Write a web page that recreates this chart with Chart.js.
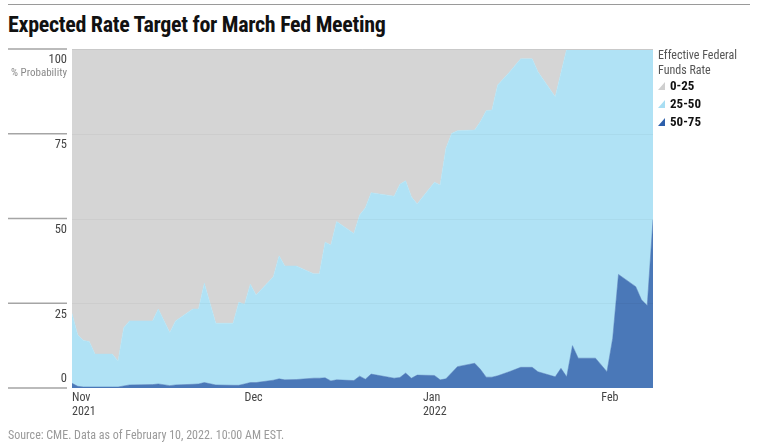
<!DOCTYPE html>
<html>
<head>
<meta charset="utf-8">
<script src="https://cdn.jsdelivr.net/npm/chart.js@4.4.1/dist/chart.umd.min.js"></script>
<style>
  body { margin: 0; background: #fff; font-family: 'Liberation Sans Narrow', 'Roboto Condensed', 'DejaVu Sans Condensed', Roboto, sans-serif; }
  #wrap { position: relative; width: 757px; height: 447px; overflow: hidden; }
  #chartBox { position: absolute; left: 0; top: 0; width: 757px; height: 447px; }
  .rule { position: absolute; left: 8px; top: 4px; width: 742px; height: 1px; background: #9a9a9a; }
  .title { position: absolute; left: 8px; top: 12px; font-size: 22px; font-weight: bold; color: #111; white-space: nowrap; letter-spacing: -0.3px; }
  .source { position: absolute; left: 8px; top: 428px; font-size: 12px; color: #9a9a9a; white-space: nowrap; }
  .legend { position: absolute; left: 658px; top: 48px; font-size: 12px; color: #555; line-height: 15px; }
  .legend .item { font-weight: bold; color: #111; font-size: 13px; line-height: 18px; display: flex; align-items: center; }
  .legend .first { margin-top: -1px; }
  .tri { width: 7px; height: 8px; margin-right: 5px; clip-path: polygon(100% 0, 100% 100%, 0 100%); }
</style>
</head>
<body>
<div id="wrap">
  <div class="rule"></div>
  <div class="title">Expected Rate Target for March Fed Meeting</div>
  <div id="chartBox"><canvas id="rateChart"></canvas></div>
  <div class="legend">
    <div>Effective Federal</div>
    <div>Funds Rate</div>
    <div class="item first"><span class="tri" style="background:#cfcfcf"></span>0-25</div>
    <div class="item"><span class="tri" style="background:#a8def3"></span>25-50</div>
    <div class="item"><span class="tri" style="background:#2d5fab"></span>50-75</div>
  </div>
  <div class="source">Source: CME. Data as of February 10, 2022. 10:00 AM EST.</div>
</div>
<script>
// day offsets from Nov 1, 2021
const days = [0,1,2,3,4,7,8,9,10,14,15,17,18,21,22,23,25,28,29,30,31,32,35,36,37,39,42,43,44,45,46,49,50,51,52,56,57,58,59,60,63,64,65,66,67,70,71,72,73,74,76,78,80,81,84,85,86,87,88,91,93,94,95,98,99,100,101];

const p5075 = [1.4,0.5,0.3,0.3,0.3, 0.3,0.3,0.6,0.9, 1.0,1.2,0.7,0.9, 1.1,1.2,1.6,0.9, 0.8,0.8,1.2,1.6,
               1.6,2.3,2.7,2.4, 2.5,2.9,2.9,3.0, 2.1,2.4,2.2,3.5, 2.6,4.1,2.9,3.1, 4.4,2.9,3.8,3.7,
               2.4,2.7,4.5,6.3, 7.3,5.5,3.2,3.2, 3.6,4.8,6.1,6.1, 4.8,3.3,5.8,3.3, 12.5,8.8,8.8,4.8,
               14.7,33.5,29.9,26.0, 24.3,49.6];

const p2550 = [20.6,15.1,13.7,13.4,9.7, 9.7,7.7,17.2,18.9, 18.8,22.1,15.7,18.9, 22.2,22.1,29.3,18.2,
               18.3,24.5,23.5,29.0, 25.8,30.5,36.3,33.6, 33.5,30.8,30.8,40.0, 40.1,46.7,43.4,47.5,
               50.6,53.5,53.7,57.0, 56.7,53.5,50.5,57.0, 57.5,68.0,70.6,69.6, 68.8,73.1,78.6,78.8,
               85.8,88.3,91.0,91.0, 88.5,82.6,87.2,96.7, 87.5,91.2,91.2,95.2, 85.3,66.5,70.1,74.0,
               75.7,50.4];

const p025 = [78,84.4,86,86.3,90, 90,92,82.2,80.2, 80.2,76.7,83.6,80.2, 76.7,76.7,69.1,80.9,
              80.9,74.7,75.3,69.4, 72.6,67.2,61,64, 64,66.3,66.3,57, 57.8,50.9,54.4,49,
              46.8,42.4,43.4,39.9, 38.9,43.6,45.7,39.3, 40.1,29.3,24.9,24.1, 23.9,21.4,18.2,18,
              10.6,6.9,2.9,2.9, 6.7,14.1,7,0, 0,0,0,0, 0,0,0,0, 0,0];

const monthTicks = [0, 30, 61, 92];
const monthLabels = [['Nov', '2021'], ['Dec'], ['Jan', '2022'], ['Feb']];
const yTicks = [0, 25, 50, 75, 100];

const FONT = "'Liberation Sans Narrow', 'Roboto Condensed', 'DejaVu Sans Condensed', Roboto, sans-serif";

function pts(vals) {
   return days.map((d, i) => ({ x: d, y: vals[i] }));
}

const axisPlugin = {
   id: 'axisPlugin',
   afterDatasetsDraw(chart) {
      const { ctx, chartArea, scales } = chart;
      const xs = scales.x, ys = scales.y;
      ctx.save();

      // faint grid inside plot
      ctx.strokeStyle = 'rgba(0,0,0,0.035)';
      ctx.lineWidth = 1;
      [25, 50, 75].forEach(v => {
         const y = Math.round(ys.getPixelForValue(v)) + 0.5;
         ctx.beginPath();
         ctx.moveTo(chartArea.left, y);
         ctx.lineTo(chartArea.right, y);
         ctx.stroke();
      });
      ctx.strokeStyle = '#c9c9c9';
      const yTop = Math.round(ys.getPixelForValue(100)) + 0.5;
      ctx.beginPath();
      ctx.moveTo(chartArea.left, yTop);
      ctx.lineTo(chartArea.right, yTop);
      ctx.stroke();

      // left tick lines and labels
      ctx.strokeStyle = '#a5a5a5';
      ctx.lineWidth = 1.5;
      ctx.fillStyle = '#444';
      ctx.font = '12.5px ' + FONT;
      ctx.textAlign = 'right';
      yTicks.forEach(v => {
         const y = ys.getPixelForValue(v);
         ctx.beginPath();
         ctx.moveTo(8, y);
         ctx.lineTo(chartArea.left - 5, y);
         ctx.stroke();
         if (v === 0) {
            ctx.textBaseline = 'bottom';
            ctx.fillText(String(v), chartArea.left - 5, y - 3);
         } else {
            ctx.textBaseline = 'top';
            ctx.fillText(String(v), chartArea.left - 5, y + 5);
         }
      });
      ctx.fillStyle = '#8a8a8a';
      ctx.font = '11px ' + FONT;
      ctx.textBaseline = 'top';
      ctx.fillText('% Probability', chartArea.left - 5, ys.getPixelForValue(100) + 19);

      // month labels
      ctx.fillStyle = '#444';
      ctx.font = '12px ' + FONT;
      ctx.textAlign = 'left';
      monthTicks.forEach((d, i) => {
         const x = xs.getPixelForValue(d);
         monthLabels[i].forEach((line, j) => {
            ctx.fillText(line, x, chartArea.bottom + 4 + j * 14);
         });
      });
      ctx.restore();
   }
};

new Chart(document.getElementById('rateChart'), {
   type: 'line',

   data: {
      datasets: [
         {
            label: '50-75',
            data: pts(p5075),
            backgroundColor: '#4a78b8',
            borderColor: '#4a78b8',
            borderWidth: 0.5,
            fill: 'origin'
         },
         {
            label: '25-50',
            data: pts(p2550),
            backgroundColor: '#b0e2f5',
            borderColor: '#b0e2f5',
            borderWidth: 0.5,
            fill: '-1'
         },
         {
            label: '0-25',
            data: pts(p025),
            backgroundColor: '#d5d5d5',
            borderColor: '#d5d5d5',
            borderWidth: 0.5,
            fill: '-1'
         }
      ]
   },

   options: {
      responsive: true,
      maintainAspectRatio: false,
      animation: false,
      layout: {
         padding: { left: 72, right: 104, top: 49, bottom: 59 }
      },
      elements: {
         point: { radius: 0 },
         line: { tension: 0 }
      },
      plugins: {
         legend: { display: false },
         tooltip: { enabled: false }
      },
      scales: {
         x: {
            type: 'linear',
            min: 0,
            max: 101,
            display: false
         },
         y: {
            stacked: true,
            min: 0,
            max: 100,
            display: false
         }
      }
   },

   plugins: [axisPlugin]
});
</script>
</body>
</html>
